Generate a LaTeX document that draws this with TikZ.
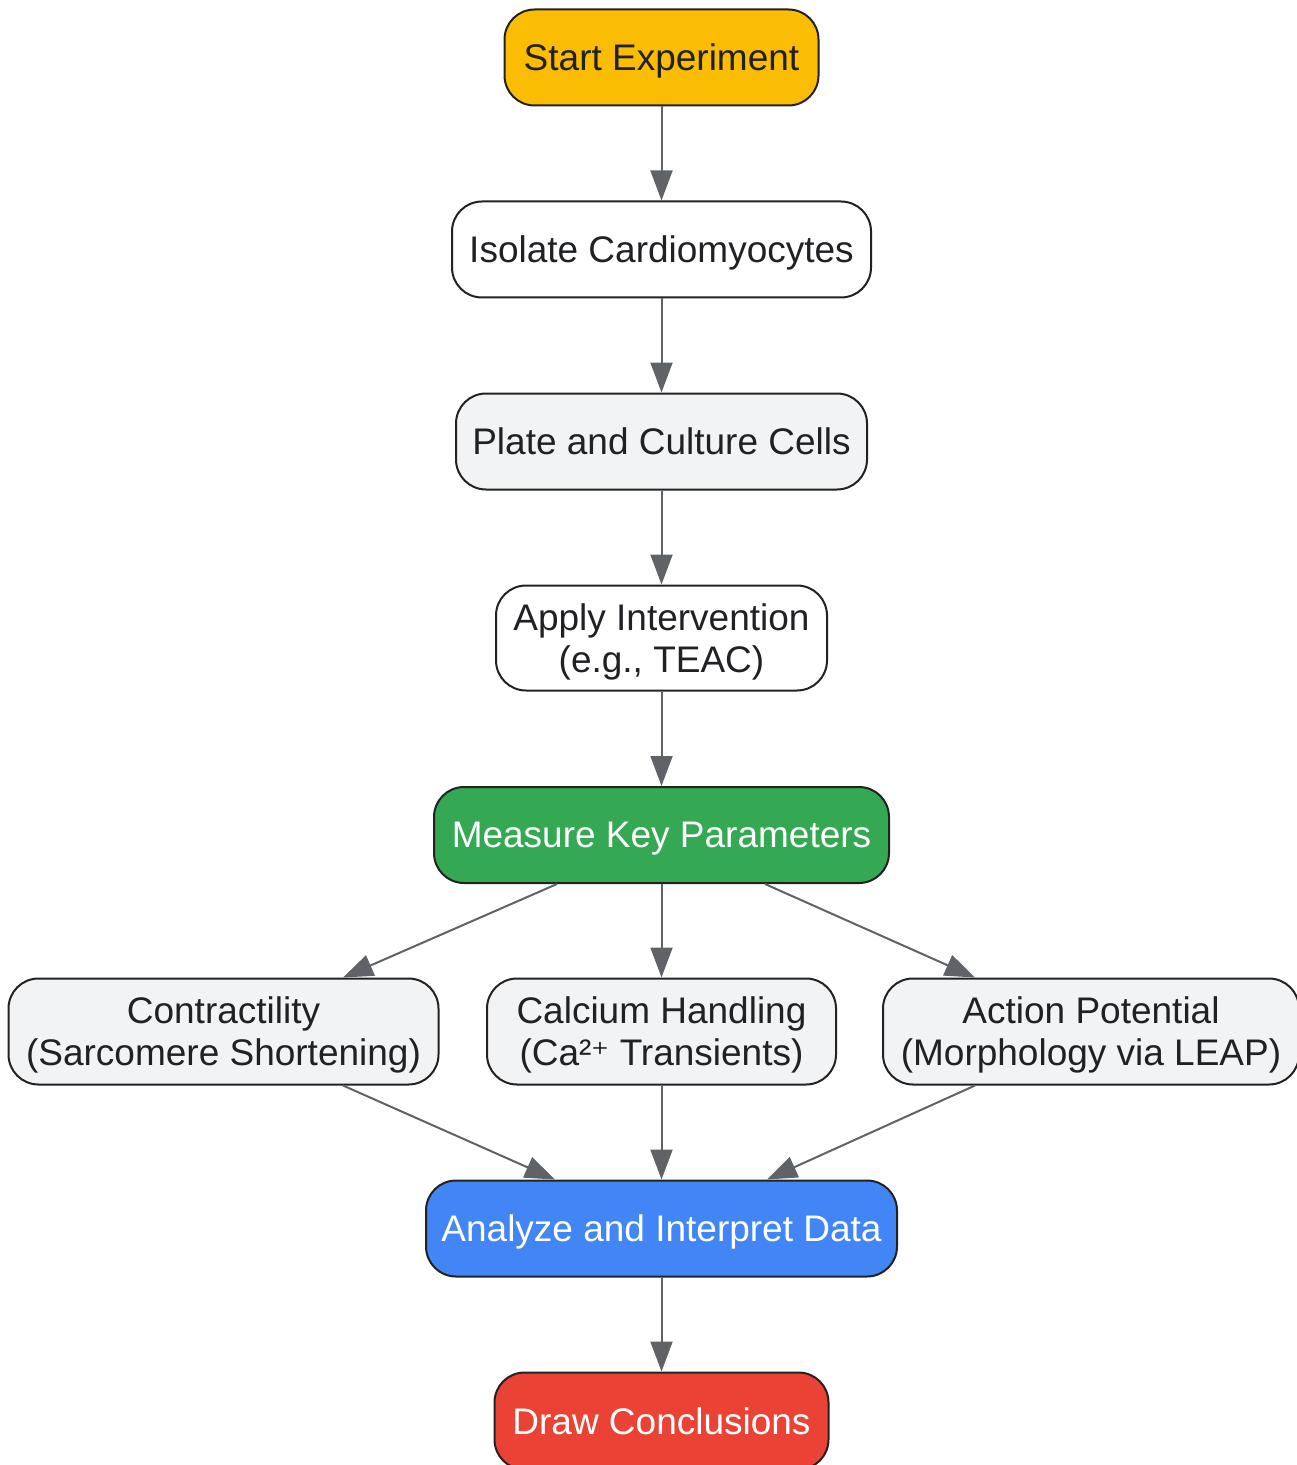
\documentclass[tikz,border=0pt]{standalone}
\usepackage{fontspec}
\setmainfont{Liberation Sans}
\newfontfamily\supfont{DejaVu Sans}
\usetikzlibrary{arrows.meta}
\definecolor{cYellow}{HTML}{FBBC04}
\definecolor{cGreen}{HTML}{34A853}
\definecolor{cBlue}{HTML}{4285F4}
\definecolor{cRed}{HTML}{EA4335}
\definecolor{cGray}{HTML}{F1F3F4}
\definecolor{cEdge}{HTML}{5F6368}
\definecolor{cText}{HTML}{202124}
\definecolor{cBorder}{HTML}{222222}
\tikzset{
  box/.style={draw=cBorder, line width=1pt, rounded corners=15pt, align=center,
    text=cText, inner sep=0pt, text depth=0pt, font=\fontsize{18.5}{21}\selectfont},
  conn/.style={draw=cEdge, line width=1pt, -{Triangle[length=15pt,width=11pt]}},
}
\begin{document}
\begin{tikzpicture}[x=0.5pt,y=-0.5pt]
\useasboundingbox (0,0) rectangle (1296,1465);
\node[box, fill=cYellow, minimum width=157pt, minimum height=48pt] (start) at (661.5,57.5) {Start Experiment};
\node[box, fill=white, minimum width=209.5pt, minimum height=48pt] (isolate) at (661.5,249.5) {Isolate Cardiomyocytes};
\node[box, fill=cGray, minimum width=205.5pt, minimum height=48pt] (plate) at (661.5,441.5) {Plate and Culture Cells};
\node[box, fill=white, minimum width=165.5pt, minimum height=52.5pt] (apply) at (661.5,638) {Apply Intervention\\(e.g., TEAC)};
\node[box, fill=cGreen, text=white, minimum width=227.5pt, minimum height=48pt] (measure) at (661.5,835) {Measure Key Parameters};
\node[box, fill=cGray, minimum width=215pt, minimum height=53pt] (contr) at (223.5,1031.5) {Contractility\\(Sarcomere Shortening)};
\node[box, fill=cGray, minimum width=174.5pt, minimum height=53pt] (calc) at (661.5,1031.5) {Calcium Handling\\(Ca²{\supfont\fontsize{17}{21}\selectfont ⁺} Transients)};
\node[box, fill=cGray, minimum width=208pt, minimum height=53pt] (action) at (1091,1031.5) {Action Potential\\(Morphology via LEAP)};
\node[box, fill=cBlue, text=white, minimum width=235.5pt, minimum height=48pt] (analyze) at (661.5,1228.5) {Analyze and Interpret Data};
\node[box, fill=cRed, text=white, minimum width=167pt, minimum height=48.5pt] (draw) at (661.5,1421) {Draw Conclusions};

\draw[conn] (start.south) -- (isolate.north);
\draw[conn] (isolate.south) -- (plate.north);
\draw[conn] (plate.south) -- (apply.north);
\draw[conn] (apply.south) -- (measure.north);
\draw[conn] ([xshift=-52.25pt]measure.south) -- ([xshift=59.75pt]contr.north);
\draw[conn] (measure.south) -- (calc.north);
\draw[conn] ([xshift=51.75pt]measure.south) -- ([xshift=-58pt]action.north);
\draw[conn] ([xshift=59.75pt]contr.south) -- ([xshift=-53.25pt]analyze.north);
\draw[conn] (calc.south) -- (analyze.north);
\draw[conn] ([xshift=-58pt]action.south) -- ([xshift=52.75pt]analyze.north);
\draw[conn] (analyze.south) -- (draw.north);
\end{tikzpicture}
\end{document}
